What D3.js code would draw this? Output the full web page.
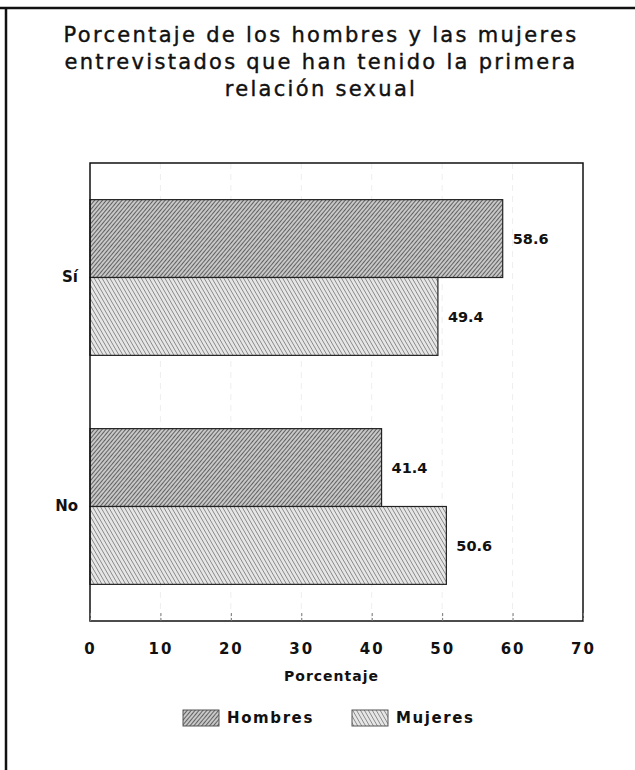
<!DOCTYPE html>
<html>
<head>
<meta charset="utf-8">
<script src="https://cdn.jsdelivr.net/npm/d3@7"></script>
<style>
  body { margin: 0; background: #fff; }
  svg { display: block; }
  .lbl { font-family: "DejaVu Sans", sans-serif; font-weight: bold; fill: #111; }
</style>
</head>
<body>
<svg width="635" height="770"></svg>
<script>
var categories = ["Sí", "No"];
var series = ["Hombres", "Mujeres"];
var hombres = [58.6, 41.4];
var mujeres = [49.4, 50.6];
var xTicks = [0, 10, 20, 30, 40, 50, 60, 70];
var titleLines = ["Porcentaje de los hombres y las mujeres",
                  "entrevistados que han tenido la primera",
                  "relación sexual"];

var svg = d3.select("svg"),
    margin = {top: 163, right: 52, bottom: 149, left: 90},
    width = +svg.attr("width") - margin.left - margin.right,
    height = +svg.attr("height") - margin.top - margin.bottom;

// page frame (scan only shows top and left edges)
svg.append("line").attr("x1", 0).attr("x2", 635).attr("y1", 8).attr("y2", 8)
  .attr("stroke", "#111").attr("stroke-width", 2.5);
svg.append("line").attr("x1", 6).attr("x2", 6).attr("y1", 8).attr("y2", 770)
  .attr("stroke", "#111").attr("stroke-width", 2.5);

// hatch patterns
var defs = svg.append("defs");
function hatch(id, angle, gap, bg, fg, sw) {
  var p = defs.append("pattern")
    .attr("id", id)
    .attr("patternUnits", "userSpaceOnUse")
    .attr("width", gap).attr("height", gap)
    .attr("patternTransform", "rotate(" + angle + ")");
  p.append("rect").attr("width", gap).attr("height", gap).attr("fill", bg);
  p.append("line").attr("x1", 0).attr("x2", 0).attr("y1", 0).attr("y2", gap)
    .attr("stroke", fg).attr("stroke-width", sw);
}
hatch("hatch-h", 40, 3, "#c8c8c8", "#464646", 1.6);
hatch("hatch-m", -30, 3.4, "#e6e6e6", "#6a6a6a", 1.3);
var fills = {"Hombres": "url(#hatch-h)", "Mujeres": "url(#hatch-m)"};

// title
svg.append("text")
  .attr("class", "title")
  .attr("text-anchor", "middle")
  .style("font-family", "'DejaVu Sans', sans-serif")
  .style("font-size", "21px")
  .style("letter-spacing", "2.3px")
  .attr("fill", "#111")
  .attr("stroke", "#111")
  .attr("stroke-width", 0.4)
  .selectAll("tspan")
  .data(titleLines)
  .enter().append("tspan")
  .attr("x", 321)
  .attr("y", function(d, i) { return 42 + i * 27; })
  .text(function(d) { return d; });

var g = svg.append("g")
  .attr("transform", "translate(" + margin.left + "," + margin.top + ")");

var xScale = d3.scaleLinear().domain([0, 70]).range([0, width]);
var yScale = d3.scaleBand().domain(categories).range([0, height])
  .paddingInner(0.32).paddingOuter(0.16);
var ySub = d3.scaleBand().domain(series).range([0, yScale.bandwidth()]);

// faint gridlines
g.selectAll(".grid")
  .data(xTicks.slice(1, -1))
  .enter().append("line")
  .attr("x1", function(d) { return xScale(d); })
  .attr("x2", function(d) { return xScale(d); })
  .attr("y1", 0).attr("y2", height)
  .attr("stroke", "#eeeeee")
  .attr("stroke-dasharray", "6,5");

var rows = [];
categories.forEach(function(c, i) {
  rows.push({cat: c, s: "Hombres", v: hombres[i]});
  rows.push({cat: c, s: "Mujeres", v: mujeres[i]});
});

g.selectAll(".bar")
  .data(rows)
  .enter().append("rect")
  .attr("class", "bar")
  .attr("x", xScale(0))
  .attr("y", function(d) { return yScale(d.cat) + ySub(d.s); })
  .attr("width", function(d) { return xScale(d.v) - xScale(0); })
  .attr("height", ySub.bandwidth())
  .attr("fill", function(d) { return fills[d.s]; })
  .attr("stroke", "#222")
  .attr("stroke-width", 1.2);

g.selectAll(".val")
  .data(rows)
  .enter().append("text")
  .attr("class", "lbl")
  .attr("x", function(d) { return xScale(d.v) + 10; })
  .attr("y", function(d) { return yScale(d.cat) + ySub(d.s) + ySub.bandwidth() / 2; })
  .attr("dy", "0.35em")
  .style("font-size", "14.5px")
  .text(function(d) { return d.v.toFixed(1); });

// frame of plot
g.append("rect")
  .attr("width", width).attr("height", height)
  .attr("fill", "none").attr("stroke", "#111").attr("stroke-width", 1.5);

// x axis
var xAxis = g.append("g")
  .attr("transform", "translate(0," + height + ")")
  .call(d3.axisBottom(xScale).tickValues(xTicks).tickSize(-8).tickPadding(22));
xAxis.select(".domain").remove();
xAxis.selectAll(".tick line").attr("stroke", "#777").attr("stroke-dasharray", "3,2");
xAxis.selectAll(".tick text")
  .attr("class", "lbl")
  .style("font-size", "15px")
  .style("letter-spacing", "2px");

// y axis
var yAxis = g.append("g")
  .call(d3.axisLeft(yScale).tickSize(0).tickPadding(12));
yAxis.select(".domain").remove();
yAxis.selectAll(".tick text")
  .attr("class", "lbl")
  .style("font-size", "15px");

// x axis title
svg.append("text")
  .attr("class", "lbl")
  .attr("x", margin.left + width / 2 - 5)
  .attr("y", 681)
  .attr("text-anchor", "middle")
  .style("font-size", "14px")
  .style("letter-spacing", "1px")
  .text("Porcentaje");

// legend
var legend = svg.append("g").attr("transform", "translate(183,710)");
var leg = legend.selectAll(".leg")
  .data(series)
  .enter().append("g")
  .attr("transform", function(d, i) { return "translate(" + (i * 169) + ",0)"; });
leg.append("rect")
  .attr("width", 36).attr("height", 16)
  .attr("fill", function(d) { return fills[d]; })
  .attr("stroke", "#555").attr("stroke-width", 1);
leg.append("text")
  .attr("class", "lbl")
  .attr("x", 44).attr("y", 8).attr("dy", "0.35em")
  .style("font-size", "15px")
  .style("letter-spacing", "1.6px")
  .text(function(d) { return d; });
</script>
</body>
</html>
